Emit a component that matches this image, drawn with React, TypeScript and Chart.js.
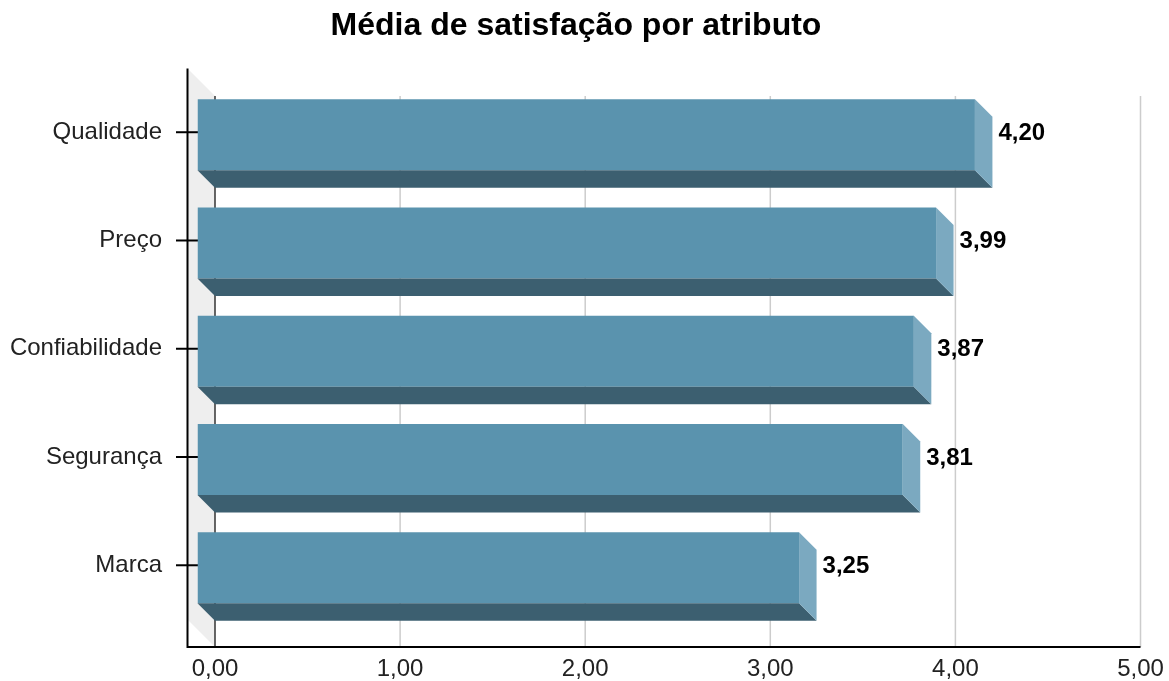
import React, { useEffect, useRef } from 'react';
import { Chart, registerables } from 'chart.js';

Chart.register(...registerables);

// ---- data ----
const titleText = 'Média de satisfação por atributo';
const categories = ['Qualidade', 'Preço', 'Confiabilidade', 'Segurança', 'Marca'];
const values = [4.2, 3.99, 3.87, 3.81, 3.25];
const xTickValues = [0, 1, 2, 3, 4, 5];

// ---- style ----
const FONT = '"Liberation Sans", Arial, Helvetica, sans-serif';
const FRONT_COLOR = '#5A93AE';
const BOTTOM_COLOR = '#3C5F70';
const SIDE_COLOR = '#7BA9C0';
const WALL_COLOR = '#EEEEEE';
const GRID_COLOR = '#CCCCCC';
const BAR_DEPTH = 17.5;
const WALL_DEPTH = 27.5;

const fmt = (v: number) => Number(v).toFixed(2).replace('.', ',');

const frame3d = {
  id: 'frame3d',
  beforeDatasetsDraw(chart: any) {
    const { ctx, chartArea: ca, scales } = chart;
    const x = scales.x;
    const y = scales.y;
    const backLeft = x.getPixelForValue(0) + BAR_DEPTH;
    const frontLeft = backLeft - WALL_DEPTH;
    const backTop = ca.top + 15.5;
    const backBottom = ca.bottom + 25;
    const frontTop = backTop - WALL_DEPTH;
    const frontBottom = backBottom - WALL_DEPTH;
    ctx.save();
    // side wall
    ctx.fillStyle = WALL_COLOR;
    ctx.beginPath();
    ctx.moveTo(frontLeft, frontTop);
    ctx.lineTo(backLeft, backTop);
    ctx.lineTo(backLeft, backBottom);
    ctx.lineTo(frontLeft, frontBottom);
    ctx.closePath();
    ctx.fill();
    // grid lines
    ctx.strokeStyle = GRID_COLOR;
    ctx.lineWidth = 1.5;
    xTickValues.forEach((v) => {
      if (v === 0) return;
      const px = x.getPixelForValue(v) + BAR_DEPTH;
      ctx.beginPath();
      ctx.moveTo(px, backTop);
      ctx.lineTo(px, backBottom);
      ctx.stroke();
    });
    // zero line
    ctx.strokeStyle = '#333333';
    ctx.lineWidth = 1.5;
    ctx.beginPath();
    ctx.moveTo(backLeft, backTop);
    ctx.lineTo(backLeft, backBottom);
    ctx.stroke();
    // axes
    const lastX = x.getPixelForValue(xTickValues[xTickValues.length - 1]) + BAR_DEPTH;
    ctx.strokeStyle = '#000000';
    ctx.lineWidth = 2;
    ctx.beginPath();
    ctx.moveTo(frontLeft, frontTop);
    ctx.lineTo(frontLeft, backBottom);
    ctx.lineTo(lastX, backBottom);
    ctx.stroke();
    // category tick marks
    categories.forEach((_, i) => {
      const py = y.getPixelForValue(i) - 2.5;
      ctx.beginPath();
      ctx.moveTo(frontLeft - 11.5, py);
      ctx.lineTo(frontLeft + 11.5, py);
      ctx.stroke();
    });
    ctx.restore();
  },
  afterDatasetsDraw(chart: any) {
    const { ctx } = chart;
    const meta = chart.getDatasetMeta(0);
    const data = chart.data.datasets[0].data as number[];
    ctx.save();
    meta.data.forEach((el: any, i: number) => {
      const { x: xv, y: yc, base, height } = el.getProps(['x', 'y', 'base', 'height'], true);
      const top = yc - height / 2;
      const bot = yc + height / 2;
      const D = BAR_DEPTH;
      // bottom face
      ctx.fillStyle = BOTTOM_COLOR;
      ctx.beginPath();
      ctx.moveTo(base, bot);
      ctx.lineTo(xv, bot);
      ctx.lineTo(xv + D, bot + D);
      ctx.lineTo(base + D, bot + D);
      ctx.closePath();
      ctx.fill();
      // right face
      ctx.fillStyle = SIDE_COLOR;
      ctx.beginPath();
      ctx.moveTo(xv, top);
      ctx.lineTo(xv + D, top + D);
      ctx.lineTo(xv + D, bot + D);
      ctx.lineTo(xv, bot);
      ctx.closePath();
      ctx.fill();
      // value label
      ctx.fillStyle = '#000000';
      ctx.font = `bold 24px ${FONT}`;
      ctx.textAlign = 'left';
      ctx.textBaseline = 'middle';
      ctx.fillText(fmt(data[i]), xv + D + 6, yc - 1.5);
    });
    ctx.restore();
  },
};

export default function App() {
  const canvasRef = useRef<HTMLCanvasElement | null>(null);

  useEffect(() => {
    if (!canvasRef.current) return;
    const chart = new Chart(canvasRef.current, {
      type: 'bar',
      data: {
        labels: categories,
        datasets: [
          {
            data: values,
            backgroundColor: FRONT_COLOR,
            borderWidth: 0,
            categoryPercentage: 1,
            barPercentage: 0.656,
          },
        ],
      },
      options: {
        indexAxis: 'y',
        animation: false,
        responsive: false,
        devicePixelRatio: 1,
        layout: { padding: { left: 0, right: 17, top: 0, bottom: 0 } },
        plugins: {
          legend: { display: false },
          tooltip: { enabled: false },
          title: {
            display: true,
            text: titleText,
            color: '#000000',
            font: { family: FONT, size: 32, weight: 'bold' },
            padding: { top: 6.6, bottom: 35.6 },
          },
        },
        scales: {
          x: {
            type: 'linear',
            min: 0,
            max: 5,
            grid: { display: false, drawTicks: false },
            border: { display: false },
            ticks: {
              stepSize: 1,
              callback: (v: any) => fmt(Number(v)),
              labelOffset: BAR_DEPTH,
              padding: 33.2,
              color: '#222222',
              font: { family: FONT, size: 24 },
              maxRotation: 0,
            },
            afterFit: (s: any) => {
              s.height = 59.1;
              s.paddingLeft = 0;
              s.paddingRight = 46;
            },
          },
          y: {
            type: 'category',
            grid: { display: false, drawTicks: false },
            border: { display: false },
            ticks: {
              padding: 35.5,
              labelOffset: -2.5,
              color: '#222222',
              font: { family: FONT, size: 24 },
            },
            afterFit: (s: any) => {
              s.width = 197.5;
            },
          },
        },
      } as any,
      plugins: [frame3d],
    });
    return () => chart.destroy();
  }, []);

  return (
    <div style={{ position: 'fixed', left: 0, top: 0, width: 1169, height: 681, background: '#ffffff' }}>
      <canvas ref={canvasRef} width={1169} height={681} style={{ display: 'block' }} />
    </div>
  );
}
